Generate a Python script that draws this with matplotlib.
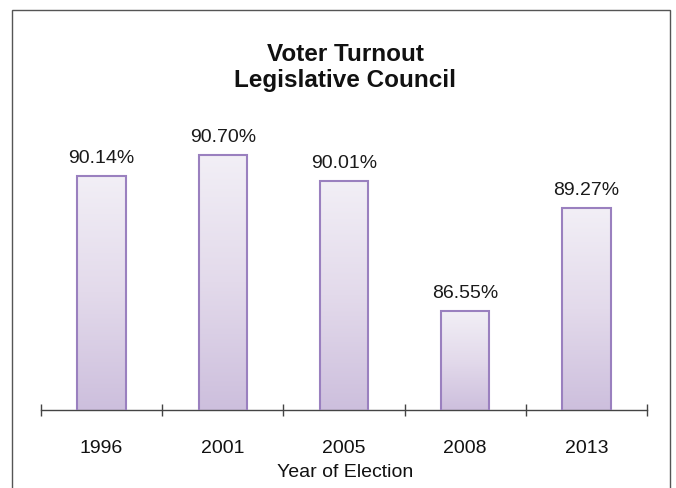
import matplotlib
matplotlib.use("Agg")
import matplotlib.pyplot as plt
import numpy as np
from matplotlib.patches import Rectangle
from matplotlib.colors import LinearSegmentedColormap
import matplotlib.transforms as mtransforms

years = ["1996", "2001", "2005", "2008", "2013"]
turnout = [90.14, 90.70, 90.01, 86.55, 89.27]
labels = ["90.14%", "90.70%", "90.01%", "86.55%", "89.27%"]

plt.rcParams['font.family'] = ['Liberation Sans', 'DejaVu Sans']

fig = plt.figure(figsize=(6.76, 4.89), dpi=100)
ax = fig.add_axes([41/676, 1 - 411/489, (647-41)/676, (411-107)/489])

ymin, ymax = 83.9, 92.0
x = np.arange(len(years))
bars = ax.bar(x, turnout, width=0.4, bottom=0, color='none',
              edgecolor='#9A80BF', linewidth=1.5, zorder=3)

cmap = LinearSegmentedColormap.from_list('g', ['#CDBFDD', '#E3DAEB', '#F2EFF6'])
grad = np.linspace(0, 1, 256).reshape(-1, 1)
for b, v, lab in zip(bars, turnout, labels):
    x0 = b.get_x()
    w = b.get_width()
    im = ax.imshow(grad, cmap=cmap, origin='lower', aspect='auto',
                   extent=[x0, x0 + w, ymin, v], zorder=2)
    im.set_clip_path(b)
    ax.annotate(lab, (x0 + w / 2, v), xytext=(0, 14), textcoords='offset pixels',
                ha='center', va='baseline', fontsize=14, color='#1a1a1a')

ax.set_xlim(-0.5, len(years) - 0.5)
ax.set_ylim(ymin, ymax)
for s in ['top', 'right', 'left']:
    ax.spines[s].set_visible(False)
ax.spines['bottom'].set_color('#444444')
ax.spines['bottom'].set_linewidth(1.0)
ax.set_yticks([])
ax.set_xticks(np.arange(-0.5, len(years), 1.0))
ax.set_xticklabels([])
ax.tick_params(axis='x', which='major', direction='inout', length=9, width=1.0, color='#444444')

trans = mtransforms.blended_transform_factory(ax.transData, ax.transAxes)
for xi, yr in zip(x, years):
    ax.annotate(yr, (xi, 0), xycoords=trans, xytext=(0, -42), textcoords='offset pixels',
                ha='center', va='baseline', fontsize=14, color='#111111', annotation_clip=False)

fig.text(345/676, 1 - 477/489, "Year of Election", ha='center', va='baseline',
         fontsize=14, color='#111111')

fig.text(345/676, 1 - 61/489, "Voter Turnout", ha='center', va='baseline',
         fontsize=17.5, fontweight='bold', color='#111111')
fig.text(345/676, 1 - 87/489, "Legislative Council", ha='center', va='baseline',
         fontsize=17.5, fontweight='bold', color='#111111')

fig.patches.append(Rectangle((12/676, -0.05), (670-12)/676, (1 - 11/489) + 0.05,
                             transform=fig.transFigure, fill=False,
                             edgecolor='#555555', linewidth=1.0))

fig.savefig("out.png", dpi=100)
